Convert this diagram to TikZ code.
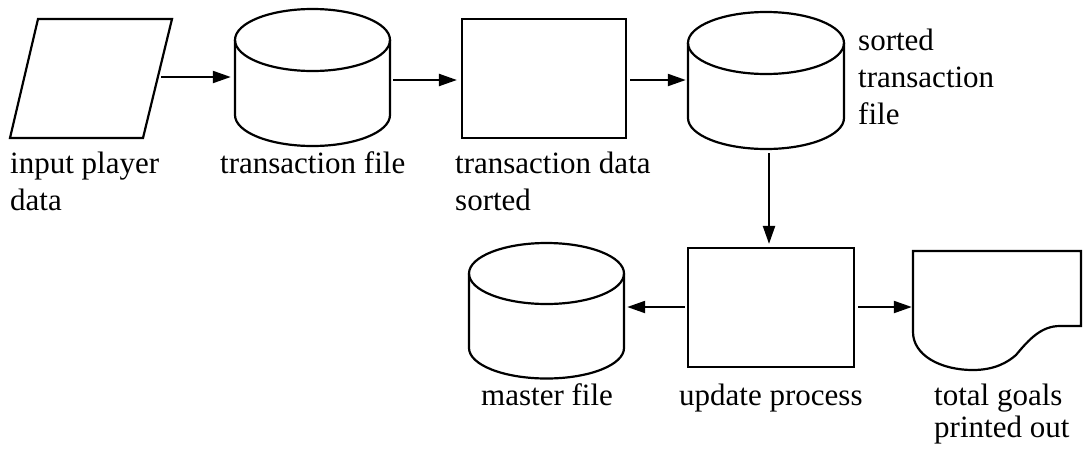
\documentclass[tikz,border=0pt]{standalone}
\usepackage{fontspec}
\setmainfont{Liberation Serif}
\usetikzlibrary{arrows.meta,calc}
\begin{document}
\begin{tikzpicture}[x=1pt,y=-1pt,
  shp/.style={draw, line width=2.2pt, line join=miter},
  hold/.style={draw=none, inner sep=0pt},
  arr/.style={line width=2.2pt, -{Triangle[length=18pt,width=12pt]}},
  lbl/.style={anchor=base west, inner sep=0pt, font=\fontsize{31}{37}\selectfont}
]
\useasboundingbox (0,0) rectangle (1083,453);

% input (parallelogram)
\node[hold, minimum width=149pt, minimum height=119pt] (inp) at (84.5,78.5) {};
\draw[shp] (38,19) -- (172,19) -- (143,138) -- (10,138) -- cycle;

% transaction file (cylinder)
\node[hold, minimum width=155pt, minimum height=137pt] (tf) at (312.5,77.5) {};
\draw[shp] (235,40) -- (235,115) arc[start angle=180, end angle=360, x radius=77.5pt, y radius=31pt] -- (390,40);
\draw[shp] (312.5,40) ellipse[x radius=77.5pt, y radius=31pt];

% transaction data sorted (rectangle)
\node[shp, minimum width=164pt, minimum height=119pt] (srt) at (544,78.5) {};

% sorted transaction file (cylinder)
\node[hold, minimum width=156pt, minimum height=137pt] (stf) at (766,80.5) {};
\draw[shp] (688,43) -- (688,118) arc[start angle=180, end angle=360, x radius=78pt, y radius=31pt] -- (844,43);
\draw[shp] (766,43) ellipse[x radius=78pt, y radius=31pt];

% update process (rectangle)
\node[shp, minimum width=166pt, minimum height=119pt] (upd) at (771,307.5) {};

% master file (cylinder)
\node[hold, minimum width=155pt, minimum height=135pt] (mf) at (546.5,310.5) {};
\draw[shp] (469,273.5) -- (469,348) arc[start angle=180, end angle=360, x radius=77.5pt, y radius=30.5pt] -- (624,273.5);
\draw[shp] (546.5,273.5) ellipse[x radius=77.5pt, y radius=30.5pt];

% total goals printed out (document)
\node[hold, minimum width=168pt, minimum height=119pt] (doc) at (997,310.5) {};
\draw[shp] (913,251) -- (1081,251) -- (1081,326) -- (1060,326)
  .. controls (1042,326) and (1030,338) .. (1016,355)
  .. controls (1008,362) and (995,370) .. (973,370)
  .. controls (940,370) and (913,355) .. (913,332) -- cycle;

% connectors
\draw[arr, shorten <=2pt, shorten >=4pt] (inp.east |- 0,77) -- (tf.west |- 0,77);
\draw[arr, shorten <=3pt, shorten >=4pt] (tf.east |- 0,80) -- (srt.west |- 0,80);
\draw[arr, shorten <=3pt, shorten >=2pt] (srt.east |- 0,80) -- (stf.west |- 0,80);
\draw[arr, shorten <=4pt, shorten >=3pt] (stf.south -| 769,0) -- (upd.north -| 769,0);
\draw[arr, shorten <=2pt, shorten >=3pt] (upd.west |- 0,307) -- (mf.east |- 0,307);
\draw[arr, shorten <=3pt, shorten >=1pt] (upd.east |- 0,307) -- (doc.west |- 0,307);

% labels
\node[lbl] (linp) at (10,173) {\begin{tabular}[t]{@{}l@{}}input player\\data\end{tabular}};
\node[lbl] (ltf) at (220,173) {transaction file};
\node[lbl] (lsrt) at (455,173) {\begin{tabular}[t]{@{}l@{}}transaction data\\sorted\end{tabular}};
\node[lbl] (lstf) at (858,50) {\begin{tabular}[t]{@{}l@{}}sorted\\transaction\\file\end{tabular}};
\node[lbl] (lmf) at (481,405) {master file};
\node[lbl] (lupd) at (679,405) {update process};
\node[lbl, font=\fontsize{31}{32}\selectfont] (ldoc) at (934,405) {\begin{tabular}[t]{@{}l@{}}total goals\\printed out\end{tabular}};
\end{tikzpicture}
\end{document}
